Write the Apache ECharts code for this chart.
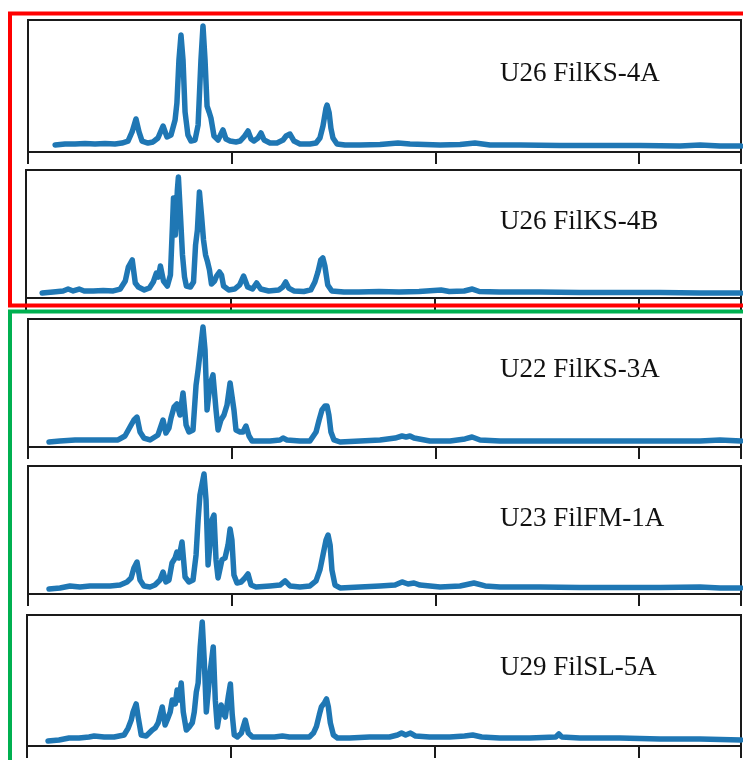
<!DOCTYPE html>
<html>
<head>
<meta charset="utf-8">
<title>Spectra of filament samples</title>
<script src="https://cdn.jsdelivr.net/npm/echarts@6/dist/echarts.min.js"></script>
<style>
  html, body { margin: 0; padding: 0; background: #fff; }
  #chart { width: 743px; height: 760px; }
</style>
</head>
<body>
<div id="chart"></div>
<script>
// Sample names, top to bottom
const sampleNames = ['U26 FilKS-4A', 'U26 FilKS-4B', 'U22 FilKS-3A', 'U23 FilFM-1A', 'U29 FilSL-5A'];

// Shared x scale (no tick labels are drawn)
const xMin = 0;
const xMax = 35;
const xStep = 10;

// Intensity of each sample, [position, relative intensity]
const spectrum4A = [
  [1.33,5.3],[1.82,6.1],[2.31,6.1],[2.80,6.4],[3.29,6.1],[3.78,6.4],[4.27,6.1],[4.61,6.8],[4.91,8.3],
  [5.11,15.2],[5.30,25.0],[5.45,15.2],[5.60,8.3],[5.89,6.8],[6.14,7.6],[6.38,10.6],[6.63,19.7],[6.82,11.4],
  [7.02,12.9],[7.22,24.2],[7.31,37.1],[7.41,69.7],[7.51,88.6],[7.61,69.7],[7.71,30.3],[7.85,12.9],[8.00,8.3],
  [8.20,9.1],[8.35,20.5],[8.49,69.7],[8.59,95.5],[8.69,69.7],[8.79,34.8],[8.89,30.3],[8.98,25.8],[9.13,12.1],
  [9.33,9.1],[9.57,16.7],[9.72,9.8],[9.92,8.3],[10.21,7.6],[10.41,8.3],[10.60,11.4],[10.80,15.9],[10.95,9.8],
  [11.09,8.3],[11.29,10.6],[11.44,14.4],[11.59,9.1],[11.88,6.8],[12.22,6.8],[12.52,9.1],[12.67,12.1],[12.86,13.6],
  [13.06,8.3],[13.35,6.1],[13.84,6.1],[14.14,6.8],[14.33,10.6],[14.48,19.7],[14.63,33.3],[14.68,35.6],[14.78,30.0],
  [14.87,18.0],[14.97,10.6],[15.17,6.1],[15.56,5.3],[16.30,5.3],[17.28,5.7],[18.16,6.8],[18.75,6.1],[20.23,5.3],
  [21.21,5.7],[21.94,6.8],[22.68,5.3],[24.15,5.3],[26.12,4.9],[28.08,4.9],[30.04,4.9],[32.01,4.5],[32.99,5.3],
  [33.97,4.5],[35.00,4.5]
];

const spectrum4B = [
  [0.79,3.9],[1.33,4.7],[1.82,5.5],[2.06,7.0],[2.31,5.5],[2.60,7.0],[2.85,5.5],[3.29,5.5],[3.78,5.9],[4.27,5.5],
  [4.61,7.0],[4.86,13.3],[5.01,24.2],[5.20,29.7],[5.35,11.7],[5.50,8.6],[5.79,6.3],[6.04,7.8],[6.23,12.5],
  [6.38,19.5],[6.48,16.4],[6.58,25.0],[6.73,13.3],[6.92,9.4],[7.07,18.0],[7.17,57.0],[7.22,78.1],[7.31,49.2],
  [7.41,84.4],[7.46,94.5],[7.56,64.8],[7.66,33.6],[7.76,16.4],[7.85,9.4],[8.05,8.6],[8.20,12.5],[8.30,41.4],
  [8.39,53.1],[8.49,82.8],[8.59,64.8],[8.69,45.3],[8.79,33.6],[8.89,28.1],[8.98,21.9],[9.08,10.9],[9.23,13.3],
  [9.33,17.2],[9.47,20.3],[9.57,18.0],[9.67,9.4],[9.92,6.3],[10.21,7.0],[10.46,10.2],[10.65,17.2],[10.85,8.6],
  [11.09,7.0],[11.29,11.7],[11.49,7.0],[11.88,5.5],[12.37,6.3],[12.57,8.6],[12.71,12.5],[12.86,7.8],[13.11,5.5],
  [13.60,5.1],[13.94,6.3],[14.14,12.5],[14.29,20.3],[14.43,29.7],[14.53,31.3],[14.63,25.0],[14.77,10.2],
  [14.97,5.5],[15.56,4.7],[16.30,4.7],[17.28,5.1],[18.26,4.7],[19.24,5.1],[20.32,6.3],[20.72,5.1],[21.45,5.5],
  [21.85,7.0],[22.19,5.1],[23.17,4.7],[25.13,4.7],[27.10,4.3],[29.06,4.3],[31.03,4.3],[32.99,3.9],[35.00,3.9]
];

const spectrum3A = [
  [1.03,3.9],[1.57,4.7],[2.31,5.5],[3.04,5.5],[3.78,5.5],[4.42,5.5],[4.76,8.6],[5.06,17.2],[5.20,21.1],
  [5.35,23.4],[5.50,11.7],[5.69,7.0],[5.99,5.5],[6.38,9.4],[6.63,21.1],[6.77,10.9],[6.92,14.8],[7.02,22.7],
  [7.17,31.3],[7.31,33.6],[7.46,25.0],[7.61,42.2],[7.76,17.2],[7.90,11.7],[8.10,13.3],[8.25,48.4],[8.35,60.2],
  [8.49,79.7],[8.59,93.8],[8.69,75.8],[8.79,28.9],[8.93,48.4],[9.08,56.3],[9.23,28.9],[9.33,13.3],[9.47,21.1],
  [9.62,25.0],[9.77,32.8],[9.92,50.0],[10.01,50.8],[10.11,28.9],[10.21,13.3],[10.41,11.7],[10.55,11.7],
  [10.70,16.4],[10.85,8.6],[11.00,4.7],[11.39,4.7],[11.88,4.7],[12.37,5.5],[12.52,7.0],[12.71,5.5],[13.35,4.7],
  [13.84,4.7],[14.14,11.7],[14.29,21.1],[14.43,28.9],[14.58,32.0],[14.68,32.0],[14.77,25.0],[14.87,11.7],
  [15.02,5.5],[15.32,3.9],[16.30,4.7],[17.28,5.5],[18.02,7.0],[18.36,8.6],[18.56,7.8],[18.75,8.6],[18.95,7.0],
  [19.73,4.7],[20.72,4.7],[21.45,6.3],[21.80,7.8],[22.19,5.5],[23.17,4.7],[25.13,4.7],[27.10,4.7],[29.06,4.7],
  [31.03,4.7],[32.99,4.7],[33.97,5.5],[35.00,4.7]
];

const spectrum1A = [
  [1.03,3.9],[1.57,4.7],[2.06,6.3],[2.55,5.5],[3.04,6.3],[3.53,6.3],[4.03,6.3],[4.52,7.0],[4.86,9.4],
  [5.06,12.5],[5.20,20.3],[5.35,25.0],[5.50,10.9],[5.69,6.3],[5.99,5.5],[6.23,7.0],[6.48,10.9],[6.63,17.2],
  [6.77,9.4],[6.92,10.9],[7.07,24.2],[7.22,28.1],[7.31,32.8],[7.41,28.1],[7.56,40.6],[7.71,13.3],[7.90,9.4],
  [8.10,10.9],[8.25,30.5],[8.35,57.8],[8.44,77.3],[8.64,93.8],[8.74,73.4],[8.84,22.7],[8.93,38.3],[9.03,57.8],
  [9.13,61.7],[9.23,26.6],[9.33,12.5],[9.52,26.6],[9.67,28.1],[9.82,38.3],[9.92,50.8],[10.01,42.2],[10.11,14.8],
  [10.26,8.6],[10.46,9.4],[10.65,12.5],[10.80,15.6],[10.95,7.0],[11.19,5.5],[11.88,6.3],[12.37,7.0],[12.62,10.2],
  [12.86,6.3],[13.35,5.5],[13.84,6.3],[14.14,10.2],[14.33,18.8],[14.48,30.5],[14.63,42.2],[14.73,46.1],
  [14.83,38.3],[14.92,18.8],[15.07,7.0],[15.32,4.7],[16.30,5.5],[17.28,6.3],[18.02,7.0],[18.36,9.4],[18.65,7.8],
  [18.95,8.6],[19.24,7.0],[20.23,5.5],[21.21,6.3],[21.89,8.6],[22.44,6.3],[23.17,5.5],[25.13,5.5],[27.10,5.1],
  [29.06,5.1],[31.03,5.1],[32.99,5.5],[33.97,4.7],[35.00,4.7]
];

const spectrum5A = [
  [1.03,3.8],[1.57,4.6],[2.06,6.1],[2.55,6.1],[3.04,6.9],[3.29,7.6],[3.78,6.9],[4.27,6.9],[4.76,8.4],
  [4.96,13.7],[5.11,19.8],[5.20,26.0],[5.35,32.1],[5.45,22.1],[5.60,8.4],[5.84,7.6],[6.14,12.2],[6.28,13.7],
  [6.43,17.6],[6.63,29.8],[6.77,16.0],[6.87,19.8],[7.02,26.0],[7.12,35.1],[7.27,32.1],[7.36,42.8],[7.46,35.1],
  [7.56,48.1],[7.66,26.0],[7.81,12.2],[7.95,14.5],[8.10,17.6],[8.20,26.0],[8.30,41.2],[8.39,48.1],[8.49,75.6],
  [8.59,94.7],[8.69,65.0],[8.79,26.0],[8.89,42.8],[8.98,57.0],[9.13,75.6],[9.23,35.0],[9.33,14.5],[9.43,24.0],
  [9.52,31.3],[9.62,25.0],[9.72,22.1],[9.87,38.0],[9.97,47.3],[10.06,24.0],[10.16,8.4],[10.31,6.9],[10.51,9.9],
  [10.70,19.8],[10.85,9.9],[11.05,6.9],[11.63,6.9],[12.13,6.9],[12.52,7.6],[12.86,6.9],[13.35,6.9],[13.84,6.9],
  [14.04,9.9],[14.19,15.0],[14.33,24.0],[14.43,29.8],[14.58,33.0],[14.68,35.9],[14.77,30.0],[14.87,17.6],
  [15.02,8.4],[15.22,6.1],[15.81,6.1],[16.79,6.9],[17.77,6.9],[18.16,8.4],[18.36,9.9],[18.56,8.4],[18.80,9.9],
  [19.05,7.6],[19.73,6.9],[20.72,6.9],[21.45,7.6],[21.85,8.4],[22.29,6.9],[23.17,6.1],[24.64,6.1],[25.92,6.9],
  [26.07,9.2],[26.21,6.9],[27.10,6.1],[29.06,6.1],[31.03,5.3],[32.99,5.3],[35.00,4.6]
];

const spectra = [spectrum4A, spectrum4B, spectrum3A, spectrum1A, spectrum5A];

// Panel placement (px)
const panelTops    = [20, 170, 319, 466, 615];
const panelHeights = [132, 128, 128, 128, 131];
const panelLefts   = [28, 26, 28, 28, 27];
const panelRight   = 741;
const labelBaselines = [83, 231, 379, 528, 677];

const lineColor = '#1f77b4';

const grids = [], xAxes = [], yAxes = [], series = [], graphics = [];

sampleNames.forEach((name, i) => {
  grids.push({
    left: panelLefts[i],
    top: panelTops[i],
    width: panelRight - panelLefts[i],
    height: panelHeights[i],
    show: true,
    borderColor: '#1a1a1a',
    borderWidth: 2,
    backgroundColor: 'transparent'
  });
  xAxes.push({
    type: 'value',
    gridIndex: i,
    min: xMin,
    max: xMax,
    interval: xStep,
    axisLine: { show: false },
    axisTick: { show: true, inside: false, length: 12, lineStyle: { color: '#1a1a1a', width: 2 } },
    axisLabel: { show: false },
    splitLine: { show: false }
  });
  yAxes.push({
    type: 'value',
    gridIndex: i,
    min: 0,
    max: 100,
    axisLine: { show: false },
    axisTick: { show: false },
    axisLabel: { show: false },
    splitLine: { show: false }
  });
  series.push({
    type: 'line',
    name: name,
    xAxisIndex: i,
    yAxisIndex: i,
    data: spectra[i],
    showSymbol: false,
    symbol: 'none',
    clip: true,
    lineStyle: { color: lineColor, width: 5.5, join: 'round', cap: 'round' },
    z: 3
  });
  graphics.push({
    type: 'text',
    x: 500,
    y: labelBaselines[i] - 9,
    z: 50,
    style: {
      text: name,
      fill: '#111',
      font: '27px "Liberation Serif", "DejaVu Serif", serif',
      textAlign: 'left',
      textVerticalAlign: 'middle',
      verticalAlign: 'middle'
    }
  });
});

// Group frames: red around the first two panels, green around the remaining three
graphics.push({
  type: 'rect',
  z: 100,
  shape: { x: 10, y: 13.5, width: 800, height: 292 },
  style: { fill: 'none', stroke: '#ff0000', lineWidth: 4 }
});
graphics.push({
  type: 'rect',
  z: 100,
  shape: { x: 10, y: 311.5, width: 800, height: 520 },
  style: { fill: 'none', stroke: '#00b050', lineWidth: 4 }
});

const chart = echarts.init(document.getElementById('chart'), null, { renderer: 'canvas' });
chart.setOption({
  animation: false,
  backgroundColor: '#ffffff',
  grid: grids,
  xAxis: xAxes,
  yAxis: yAxes,
  series: series,
  graphic: graphics
});
</script>
</body>
</html>
